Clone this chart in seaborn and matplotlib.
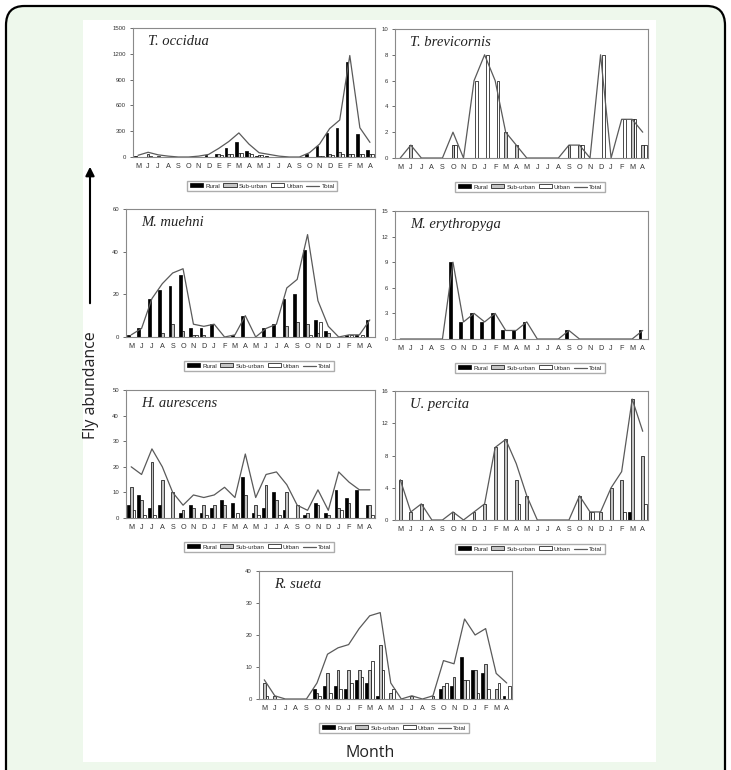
import pandas as pd
import seaborn as sns
import matplotlib.pyplot as plt
from matplotlib.patches import Patch, Rectangle, FancyBboxPatch, FancyArrowPatch
from matplotlib.lines import Line2D

sns.set_style('white')
plt.rcParams['font.family'] = ['Liberation Sans', 'DejaVu Sans']

# Meses (mayo a abril, dos años)
meses = ['M', 'J', 'J', 'A', 'S', 'O', 'N', 'D', 'J', 'F', 'M', 'A'] * 2
meses_occidua = ['M', 'J', 'J', 'A', 'S', 'O', 'N', 'D', 'E', 'F', 'M', 'A'] * 2
sitios = ['Rural', 'Sub-urban', 'Urban']

# T. occidua
occidua_rural = [15, 5, 5, 0, 0, 0, 5, 20, 30, 100, 175, 75, 10, 15, 0, 0, 0, 40, 125, 280, 340, 1100, 270, 80]
occidua_sub = [5, 40, 10, 0, 0, 0, 0, 5, 30, 40, 50, 50, 20, 5, 0, 0, 0, 5, 10, 30, 60, 40, 30, 40]
occidua_urban = [0, 10, 5, 0, 0, 0, 0, 0, 20, 30, 50, 30, 20, 5, 0, 0, 0, 0, 10, 20, 30, 40, 40, 40]
occidua_total = [20, 55, 25, 10, 0, 0, 10, 30, 100, 180, 280, 150, 50, 30, 10, 0, 0, 50, 150, 330, 430, 1180, 340, 170]

# T. brevicornis
brevicornis_rural = [0] * 24
brevicornis_sub = [0, 1, 0, 0, 0, 1, 0, 0, 0, 0, 2, 1, 0, 0, 0, 0, 1, 1, 0, 0, 0, 0, 3, 1]
brevicornis_urban = [0, 0, 0, 0, 0, 1, 0, 6, 8, 6, 0, 0, 0, 0, 0, 0, 0, 1, 0, 8, 0, 3, 3, 1]
brevicornis_total = [0, 1, 0, 0, 0, 2, 0, 6, 8, 6, 2, 1, 0, 0, 0, 0, 1, 1, 0, 8, 0, 3, 3, 2]

# M. muehni
muehni_rural = [1, 4, 18, 22, 24, 29, 4, 4, 6, 0, 1, 10, 0, 4, 6, 18, 20, 41, 8, 3, 0, 1, 1, 8]
muehni_sub = [0, 0, 0, 2, 6, 3, 1, 1, 0, 0, 0, 0, 0, 0, 0, 5, 7, 6, 2, 2, 0, 0, 0, 0]
muehni_urban = [0, 0, 0, 0, 0, 0, 1, 0, 0, 0, 0, 0, 0, 0, 0, 0, 0, 1, 7, 0, 0, 1, 1, 0]
muehni_total = [1, 4, 18, 25, 30, 32, 6, 5, 6, 0, 1, 10, 0, 4, 6, 23, 27, 48, 17, 5, 0, 1, 1, 8]

# M. erythropyga
erythropyga_rural = [0, 0, 0, 0, 0, 9, 2, 3, 2, 3, 1, 1, 2, 0, 0, 0, 1, 0, 0, 0, 0, 0, 0, 1]
erythropyga_sub = [0] * 24
erythropyga_urban = [0] * 24
erythropyga_total = [0, 0, 0, 0, 0, 9, 2, 3, 2, 3, 1, 1, 2, 0, 0, 0, 1, 0, 0, 0, 0, 0, 0, 1]

# H. aurescens
aurescens_rural = [5, 9, 4, 5, 0, 2, 5, 2, 4, 7, 6, 16, 2, 4, 10, 3, 0, 1, 6, 2, 11, 8, 11, 5]
aurescens_sub = [12, 7, 22, 15, 10, 3, 4, 5, 5, 5, 0, 9, 5, 13, 7, 10, 5, 2, 5, 1, 4, 6, 0, 5]
aurescens_urban = [3, 1, 1, 0, 0, 0, 0, 1, 0, 0, 2, 0, 1, 0, 1, 0, 0, 0, 0, 0, 3, 0, 0, 1]
aurescens_total = [20, 17, 27, 20, 10, 5, 9, 8, 9, 12, 8, 25, 8, 17, 18, 13, 5, 3, 11, 3, 18, 14, 11, 11]

# U. percita
percita_rural = [0] * 22 + [1, 0]
percita_sub = [5, 1, 2, 0, 0, 1, 0, 1, 2, 9, 10, 5, 3, 0, 0, 0, 0, 3, 1, 1, 4, 5, 15, 8]
percita_urban = [0, 0, 0, 0, 0, 0, 0, 0, 0, 0, 0, 2, 0, 0, 0, 0, 0, 0, 1, 0, 0, 1, 0, 2]
percita_total = [5, 1, 2, 0, 0, 1, 0, 1, 2, 9, 10, 7, 3, 0, 0, 0, 0, 3, 1, 1, 4, 6, 15, 11]

# R. sueta
sueta_rural = [0, 0, 0, 0, 0, 3, 4, 4, 3, 6, 5, 1, 0, 0, 0, 0, 0, 3, 4, 13, 9, 8, 0, 1]
sueta_sub = [5, 1, 0, 0, 0, 2, 8, 9, 9, 9, 9, 17, 2, 0, 1, 0, 1, 4, 7, 6, 9, 11, 3, 0]
sueta_urban = [1, 0, 0, 0, 0, 1, 2, 3, 5, 7, 12, 9, 3, 0, 0, 0, 0, 5, 0, 6, 2, 3, 5, 4]
sueta_total = [6, 1, 0, 0, 0, 5, 14, 16, 17, 22, 26, 27, 5, 0, 1, 0, 1, 12, 11, 25, 20, 22, 8, 5]

colores = {'Rural': 'black', 'Sub-urban': '#c4c4c4', 'Urban': 'white'}

W, H = 731, 770
fig = plt.figure(figsize=(W / 100, H / 100), dpi=100)
fig.patch.set_facecolor('white')

# Fondo verde con borde redondeado y panel blanco
fig.add_artist(FancyBboxPatch((6 / W, -0.05), 719 / W, 1 - 6 / H + 0.05,
                              boxstyle='round,pad=0,rounding_size=0.025',
                              transform=fig.transFigure, facecolor='#eef8ec',
                              edgecolor='black', lw=1.6, zorder=-3))
fig.add_artist(Rectangle((83 / W, 1 - 762 / H), 573 / W, 742 / H, transform=fig.transFigure,
                         facecolor='white', edgecolor='none', zorder=-2))


def rect(l, t, r, b):
    return [l / W, 1 - b / H, (r - l) / W, (b - t) / H]


def panel(caja, titulo, rural, sub, urban, total, ymax, ystep, etiquetas):
    ax = fig.add_axes(rect(*caja))
    n = len(total)
    df = pd.DataFrame({
        'mes': list(range(n)) * 3,
        'valor': rural + sub + urban,
        'sitio': ['Rural'] * n + ['Sub-urban'] * n + ['Urban'] * n,
    })
    sns.barplot(data=df, x='mes', y='valor', hue='sitio', hue_order=sitios, palette=colores,
                saturation=1, edgecolor='black', linewidth=0.5, width=0.8, ax=ax, legend=False)
    sns.lineplot(x=list(range(n)), y=total, color='#5a5a5a', lw=0.9, ax=ax)
    ax.set_xlim(-0.5, n - 0.5)
    ax.set_ylim(0, ymax)
    ax.set_yticks(range(0, ymax + 1, ystep))
    ax.set_xticks(range(n))
    ax.set_xticklabels(etiquetas)
    ax.set_xlabel('')
    ax.set_ylabel('')
    ax.tick_params(axis='x', length=0, labelsize=5.2, pad=4, colors='#333333')
    ax.tick_params(axis='y', length=2, width=0.5, labelsize=4.3, pad=3, colors='#333333', left=True)
    for s in ax.spines.values():
        s.set_color('#8a8a8a')
        s.set_linewidth(0.8)
    ax.text(0.06, 0.87, titulo, transform=ax.transAxes, fontstyle='italic',
            family='Liberation Serif', fontsize=10.5, color='#222222')
    handles = [Patch(facecolor='black', edgecolor='black', lw=0.5),
               Patch(facecolor='#c4c4c4', edgecolor='black', lw=0.5),
               Patch(facecolor='white', edgecolor='black', lw=0.5),
               Line2D([0], [0], color='#5a5a5a', lw=0.9)]
    alto = caja[3] - caja[1]
    ax.legend(handles, ['Rural', 'Sub-urban', 'Urban', 'Total'], loc='center',
              bbox_to_anchor=(0.535, -29 / alto), ncol=4, fontsize=4.5, frameon=True,
              fancybox=False, edgecolor='#999999', handlelength=2.1, handleheight=0.6,
              columnspacing=0.5, handletextpad=0.35, borderpad=0.45)
    return ax


panel((133, 28, 375, 157), 'T. occidua', occidua_rural, occidua_sub, occidua_urban,
      occidua_total, 1500, 300, meses_occidua)
panel((395, 29, 648, 158), 'T. brevicornis', brevicornis_rural, brevicornis_sub, brevicornis_urban,
      brevicornis_total, 10, 2, meses)
panel((126, 209, 375, 337), 'M. muehni', muehni_rural, muehni_sub, muehni_urban,
      muehni_total, 60, 20, meses)
panel((395, 211, 648, 339), 'M. erythropyga', erythropyga_rural, erythropyga_sub, erythropyga_urban,
      erythropyga_total, 15, 3, meses)
panel((126, 390, 375, 518), 'H. aurescens', aurescens_rural, aurescens_sub, aurescens_urban,
      aurescens_total, 50, 10, meses)
panel((395, 391, 648, 520), 'U. percita', percita_rural, percita_sub, percita_urban,
      percita_total, 16, 4, meses)
panel((259, 571, 512, 699), 'R. sueta', sueta_rural, sueta_sub, sueta_urban,
      sueta_total, 40, 10, meses)

# Flecha y etiquetas generales
fig.add_artist(FancyArrowPatch((90 / W, 1 - 306 / H), (90 / W, 1 - 164 / H), transform=fig.transFigure,
                               arrowstyle='-|>', mutation_scale=13, lw=1.5, color='black'))
fig.text(91 / W, 1 - 385 / H, 'Fly abundance', rotation=90, ha='center', va='center',
         fontsize=11.5, family='Open Sans', color='#222222')
fig.text(370 / W, 1 - 753 / H, 'Month', ha='center', va='center',
         fontsize=11.5, family='Open Sans', color='#222222')

fig.savefig('out.png', dpi=100)
